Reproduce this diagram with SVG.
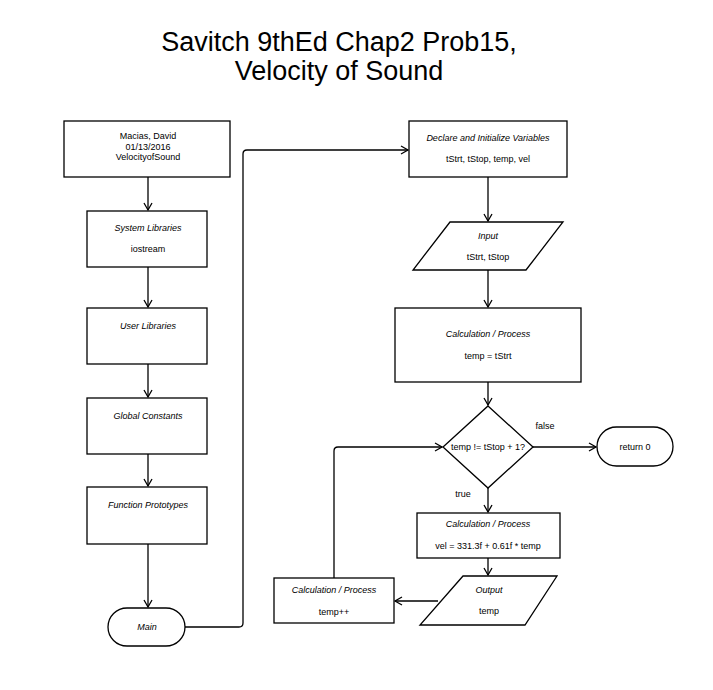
<svg xmlns="http://www.w3.org/2000/svg" width="713" height="690" viewBox="0 0 713 690">
<defs>
<style>
.s{fill:#fff;stroke:#000;stroke-width:1.3}
.t{font-family:"Liberation Sans",Arial,sans-serif;font-size:9px;fill:#000;text-anchor:middle}
.i{font-style:italic}
.c{fill:none;stroke:#000;stroke-width:1.3}
.title{font-family:"Liberation Sans",Arial,sans-serif;font-size:27px;fill:#000;text-anchor:middle}
</style>
<marker id="a" markerWidth="10" markerHeight="10" refX="8" refY="5" orient="auto" markerUnits="userSpaceOnUse">
<polyline points="1,1 8,5 1,9" fill="none" stroke="#000" stroke-width="1.3"/>
</marker>
</defs>
<rect width="713" height="690" fill="#fff"/>
<text class="title" x="339" y="51">Savitch 9thEd Chap2 Prob15,</text>
<text class="title" x="339" y="80">Velocity of Sound</text>

<g id="connectors">
<path class="c" d="M148,177 L148,210" marker-end="url(#a)"/>
<path class="c" d="M148,267 L148,307" marker-end="url(#a)"/>
<path class="c" d="M148,364 L148,397" marker-end="url(#a)"/>
<path class="c" d="M148,454 L148,486" marker-end="url(#a)"/>
<path class="c" d="M148,544 L148,607" marker-end="url(#a)"/>
<path class="c" d="M185,627 L239,627 Q243,627 243,623 L243,154 Q243,150 247,150 L408,150" marker-end="url(#a)"/>
<path class="c" d="M488,177 L488,221" marker-end="url(#a)"/>
<path class="c" d="M488,270 L488,307" marker-end="url(#a)"/>
<path class="c" d="M488,382 L488,405" marker-end="url(#a)"/>
<path class="c" d="M533,447 L596,447" marker-end="url(#a)"/>
<path class="c" d="M488,488 L488,512" marker-end="url(#a)"/>
<path class="c" d="M488,558 L488,575" marker-end="url(#a)"/>
<path class="c" d="M438,601 L395,601" marker-end="url(#a)"/>
<path class="c" d="M334,578 L334,451 Q334,447 338,447 L442,447" marker-end="url(#a)"/>
<text class="t" x="545" y="429">false</text>
<text class="t" x="463" y="497">true</text>
</g>

<g id="n1">
<rect class="s" x="64" y="121" width="166" height="56"/>
<text class="t" x="148" y="139">Macias, David</text>
<text class="t" x="148" y="150">01/13/2016</text>
<text class="t" x="148" y="160">VelocityofSound</text>
</g>
<g id="n2">
<rect class="s" x="87" y="211" width="120" height="56"/>
<text class="t i" x="148" y="231">System Libraries</text>
<text class="t" x="148" y="252">iostream</text>
</g>
<g id="n3">
<rect class="s" x="87" y="308" width="120" height="56"/>
<text class="t i" x="148" y="329">User Libraries</text>
</g>
<g id="n4">
<rect class="s" x="87" y="398" width="120" height="56"/>
<text class="t i" x="148" y="419">Global Constants</text>
</g>
<g id="n5">
<rect class="s" x="87" y="487" width="120" height="57"/>
<text class="t i" x="148" y="508">Function Prototypes</text>
</g>
<g id="n6">
<rect class="s" x="108" y="608" width="77" height="38" rx="19" ry="19"/>
<text class="t i" x="147" y="630">Main</text>
</g>
<g id="n7">
<rect class="s" x="409" y="121" width="158" height="56"/>
<text class="t i" x="488" y="141">Declare and Initialize Variables</text>
<text class="t" x="488" y="162">tStrt, tStop, temp, vel</text>
</g>
<g id="n8">
<polygon class="s" points="450,222 563,222 526,270 413,270"/>
<text class="t i" x="488" y="239">Input</text>
<text class="t" x="488" y="260">tStrt, tStop</text>
</g>
<g id="n9">
<rect class="s" x="395" y="308" width="186" height="74"/>
<text class="t i" x="488" y="337">Calculation / Process</text>
<text class="t" x="488" y="359">temp = tStrt</text>
</g>
<g id="n10">
<polygon class="s" points="488,406 533,447 488,488 443,447"/>
<text class="t" x="488" y="450">temp != tStop + 1?</text>
</g>
<g id="n11">
<rect class="s" x="597" y="427" width="76" height="39" rx="19.5" ry="19.5"/>
<text class="t" x="635" y="450">return 0</text>
</g>
<g id="n12">
<rect class="s" x="417" y="513" width="143" height="45"/>
<text class="t i" x="488" y="527">Calculation / Process</text>
<text class="t" x="488" y="549">vel = 331.3f + 0.61f * temp</text>
</g>
<g id="n13">
<polygon class="s" points="463,576 557,576 525,625 420,625"/>
<text class="t i" x="489" y="593">Output</text>
<text class="t" x="489" y="614">temp</text>
</g>
<g id="n14">
<rect class="s" x="274" y="578" width="120" height="45"/>
<text class="t i" x="334" y="593">Calculation / Process</text>
<text class="t" x="334" y="615">temp++</text>
</g>
</svg>
